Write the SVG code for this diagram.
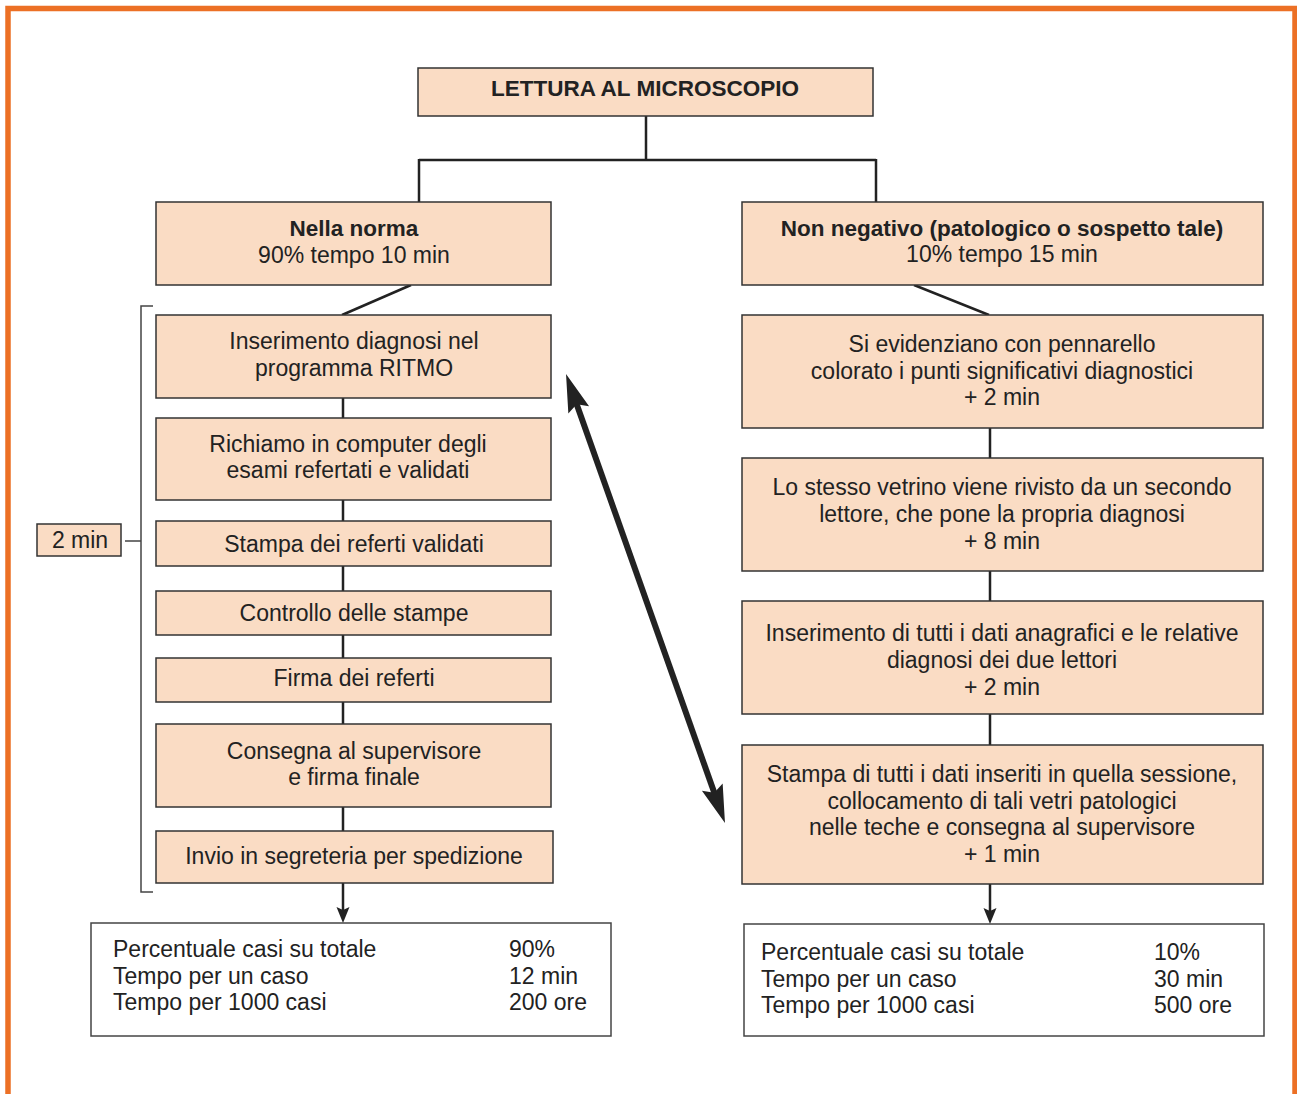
<svg xmlns="http://www.w3.org/2000/svg" width="1297" height="1094" viewBox="0 0 1297 1094">
<style>
.box{fill:#FADCC4;stroke:#333;stroke-width:1.5}
.wbox{fill:#fff;stroke:#444;stroke-width:1.5}
.t{font-family:"Liberation Sans",Arial,sans-serif;font-size:23px;fill:#222;text-anchor:middle}
.b{font-weight:bold;font-size:22.5px}
.tl{font-family:"Liberation Sans",Arial,sans-serif;font-size:23px;fill:#222}
.c{fill:none;stroke:#222;stroke-width:2.5}
.br{fill:none;stroke:#444;stroke-width:1.5}
</style>
<defs>
<marker id="big" markerUnits="userSpaceOnUse" viewBox="-2 -13 42 26" markerWidth="42" markerHeight="26" refX="18" refY="0" orient="auto-start-reverse">
<path d="M0,-11 L38,0 L0,11 L6,0 Z" fill="#222"/>
</marker>
<marker id="sm" markerUnits="userSpaceOnUse" viewBox="-1 -8 18 16" markerWidth="18" markerHeight="16" refX="4" refY="0" orient="auto">
<path d="M0,-6.5 L16,0 L0,6.5 L3,0 Z" fill="#222"/>
</marker>
</defs>
<rect x="8" y="8.5" width="1287" height="1100" fill="none" stroke="#EC7025" stroke-width="5.5"/>

<g id="connectors">
<path class="c" d="M646,116 V160 M419,160 H876 M419,159 V202 M876,159 V202"/>
<path class="c" d="M411,285 L342,315"/>
<path class="c" d="M914,285 L989,315"/>
<path class="c" d="M343,398 V418 M343,500 V521 M343,566 V591 M343,635 V658 M343,702 V724 M343,807 V831"/>
<path class="c" d="M990,428 V458 M990,571 V601 M990,714 V745"/>
<path class="c" d="M343,883 V911" marker-end="url(#sm)"/>
<path class="c" d="M990,884 V912" marker-end="url(#sm)"/>
<path d="M572.7,392.9 L718.3,804.1" stroke="#222" stroke-width="6" fill="none" marker-start="url(#big)" marker-end="url(#big)"/>
<path class="br" d="M153,306 H141 V892 H153 M125,541 H141"/>
</g>

<g id="n-top">
<rect class="box" x="418" y="68" width="455" height="48"/>
<text class="t b" x="645" y="96">LETTURA AL MICROSCOPIO</text>
</g>
<g id="n-norma">
<rect class="box" x="156" y="202" width="395" height="83"/>
<text class="t b" x="354" y="236">Nella norma</text>
<text class="t" x="354" y="263">90% tempo 10 min</text>
</g>
<g id="n-nonneg">
<rect class="box" x="742" y="202" width="521" height="83"/>
<text class="t b" x="1002" y="236">Non negativo (patologico o sospetto tale)</text>
<text class="t" x="1002" y="262">10% tempo 15 min</text>
</g>

<g id="n-l1">
<rect class="box" x="156" y="315" width="395" height="83"/>
<text class="t" x="354" y="349">Inserimento diagnosi nel</text>
<text class="t" x="354" y="376">programma RITMO</text>
</g>
<g id="n-l2">
<rect class="box" x="156" y="418" width="395" height="82"/>
<text class="t" x="348" y="452">Richiamo in computer degli</text>
<text class="t" x="348" y="478">esami refertati e validati</text>
</g>
<g id="n-l3">
<rect class="box" x="156" y="521" width="395" height="45"/>
<text class="t" x="354" y="552">Stampa dei referti validati</text>
</g>
<g id="n-l4">
<rect class="box" x="156" y="591" width="395" height="44"/>
<text class="t" x="354" y="621">Controllo delle stampe</text>
</g>
<g id="n-l5">
<rect class="box" x="156" y="658" width="395" height="44"/>
<text class="t" x="354" y="686">Firma dei referti</text>
</g>
<g id="n-l6">
<rect class="box" x="156" y="724" width="395" height="83"/>
<text class="t" x="354" y="759">Consegna al supervisore</text>
<text class="t" x="354" y="785">e firma finale</text>
</g>
<g id="n-l7">
<rect class="box" x="156" y="831" width="397" height="52"/>
<text class="t" x="354" y="864">Invio in segreteria per spedizione</text>
</g>

<g id="n-2min">
<rect class="box" x="37" y="524" width="84" height="32"/>
<text class="t" x="80" y="548">2 min</text>
</g>

<g id="n-r1">
<rect class="box" x="742" y="315" width="521" height="113"/>
<text class="t" x="1002" y="352">Si evidenziano con pennarello</text>
<text class="t" x="1002" y="379">colorato i punti significativi diagnostici</text>
<text class="t" x="1002" y="405">+ 2 min</text>
</g>
<g id="n-r2">
<rect class="box" x="742" y="458" width="521" height="113"/>
<text class="t" x="1002" y="495">Lo stesso vetrino viene rivisto da un secondo</text>
<text class="t" x="1002" y="522">lettore, che pone la propria diagnosi</text>
<text class="t" x="1002" y="549">+ 8 min</text>
</g>
<g id="n-r3">
<rect class="box" x="742" y="601" width="521" height="113"/>
<text class="t" x="1002" y="641">Inserimento di tutti i dati anagrafici e le relative</text>
<text class="t" x="1002" y="668">diagnosi dei due lettori</text>
<text class="t" x="1002" y="695">+ 2 min</text>
</g>
<g id="n-r4">
<rect class="box" x="742" y="745" width="521" height="139"/>
<text class="t" x="1002" y="782">Stampa di tutti i dati inseriti in quella sessione,</text>
<text class="t" x="1002" y="809">collocamento di tali vetri patologici</text>
<text class="t" x="1002" y="835">nelle teche e consegna al supervisore</text>
<text class="t" x="1002" y="862">+ 1 min</text>
</g>

<g id="n-sumL">
<rect class="wbox" x="91" y="923" width="520" height="113"/>
<text class="tl" x="113" y="957">Percentuale casi su totale</text>
<text class="tl" x="113" y="984">Tempo per un caso</text>
<text class="tl" x="113" y="1010">Tempo per 1000 casi</text>
<text class="tl" x="509" y="957">90%</text>
<text class="tl" x="509" y="984">12 min</text>
<text class="tl" x="509" y="1010">200 ore</text>
</g>
<g id="n-sumR">
<rect class="wbox" x="744" y="924" width="520" height="112"/>
<text class="tl" x="761" y="960">Percentuale casi su totale</text>
<text class="tl" x="761" y="987">Tempo per un caso</text>
<text class="tl" x="761" y="1013">Tempo per 1000 casi</text>
<text class="tl" x="1154" y="960">10%</text>
<text class="tl" x="1154" y="987">30 min</text>
<text class="tl" x="1154" y="1013">500 ore</text>
</g>
</svg>
